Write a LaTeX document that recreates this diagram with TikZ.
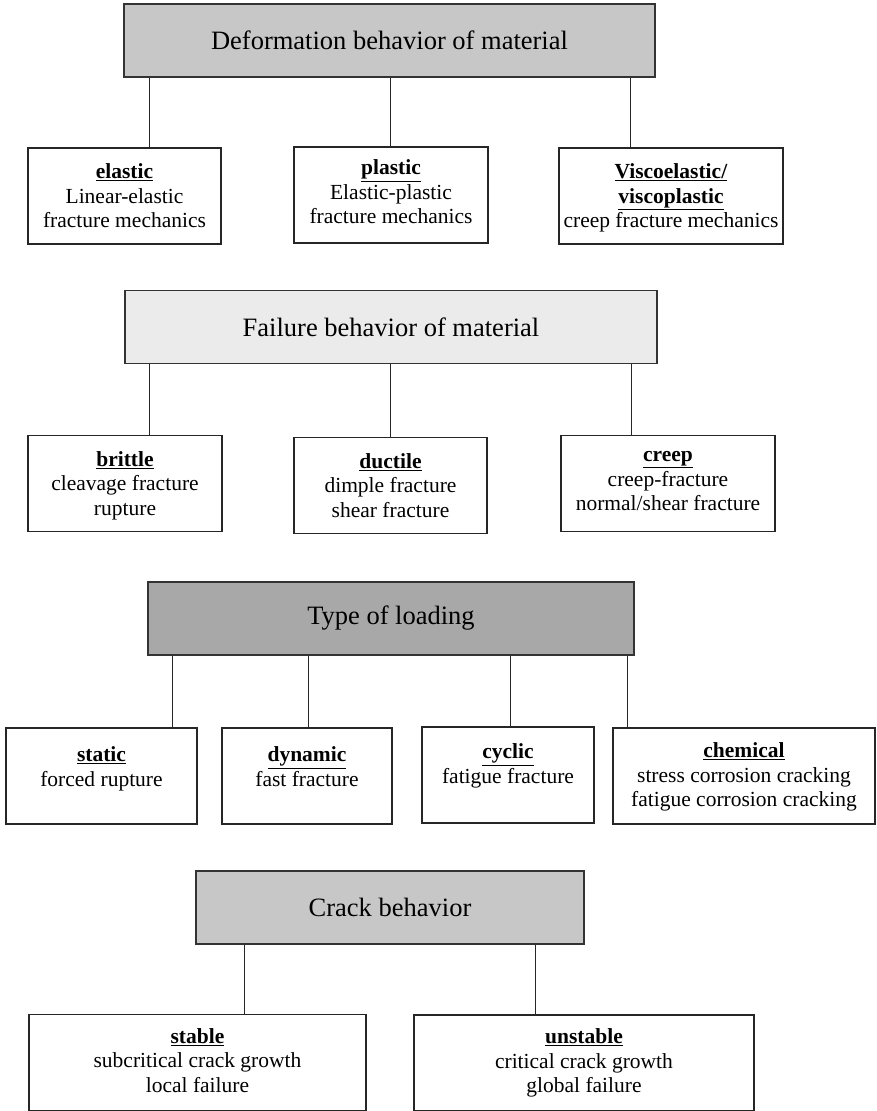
\documentclass[tikz,border=0pt]{standalone}
\usepackage{fontspec}
\setmainfont{Liberation Serif}
\usetikzlibrary{positioning}

\newcommand{\ttl}[1]{\underline{\textbf{#1}}}
\newcommand{\topbox}[3][64pt]{\parbox[c][#1][t]{#2}{\centering #3}}

\begin{document}
\begin{tikzpicture}[x=1pt,y=-1pt]
	\tikzstyle{head}=[rectangle,draw=black!80,line width=1.5pt,minimum height=73pt,inner sep=0pt,font=\fontsize{26.5}{30}\selectfont]
	\tikzstyle{leaf}=[rectangle,draw=black!85,line width=1.5pt,minimum height=96pt,inner sep=0pt,align=center,font=\fontsize{21.5}{24.5}\selectfont]
	\tikzstyle{link}=[draw=black!85,line width=1pt]
	\useasboundingbox (0,0) rectangle (876,1111);
	% deformation
	\node[head,fill=black!22,minimum width=531pt](d0) at (389.5,40.5) {Deformation behavior of material};
	\node[leaf,minimum width=193pt](d1) at (124.5,196) {\topbox{187pt}{\ttl{elastic}\\Linear-elastic\\fracture mechanics}};
	\node[leaf,minimum width=194pt](d2) at (391,195) {\topbox[70pt]{188pt}{\ttl{plastic}\\Elastic-plastic\\fracture mechanics}};
	\node[leaf,minimum width=224pt](d3) at (671,196) {\topbox{218pt}{\ttl{Viscoelastic/}\\\ttl{viscoplastic}\\creep fracture mechanics}};
	\draw[link](149,0 |- d0.south) -- (149,0 |- d1.north);
	\draw[link](390,0 |- d0.south) -- (390,0 |- d2.north);
	\draw[link](630,0 |- d0.south) -- (630,0 |- d3.north);
	% failure
	\node[head,fill=black!8,minimum width=532pt](f0) at (391,327) {Failure behavior of material};
	\node[leaf,minimum width=194pt](f1) at (125,483.5) {\topbox{188pt}{\ttl{brittle}\\cleavage fracture\\rupture}};
	\node[leaf,minimum width=193pt](f2) at (390.5,485.5) {\topbox{187pt}{\ttl{ductile}\\dimple fracture\\shear fracture}};
	\node[leaf,minimum width=214pt](f3) at (668,483.5) {\topbox{208pt}{\ttl{creep}\\creep-fracture\\normal/shear fracture}};
	\draw[link](149,0 |- f0.south) -- (149,0 |- f1.north);
	\draw[link](390,0 |- f0.south) -- (390,0 |- f2.north);
	\draw[link](631,0 |- f0.south) -- (631,0 |- f3.north);
	% loading
	\node[head,fill=black!34,minimum width=486pt](l0) at (391,618.5) {Type of loading};
	\node[leaf,minimum width=191pt](l1) at (101.5,776) {\topbox[58pt]{185pt}{\ttl{static}\\forced rupture}};
	\node[leaf,minimum width=170pt](l2) at (307,776) {\topbox[58pt]{164pt}{\ttl{dynamic}\\fast fracture}};
	\node[leaf,minimum width=172pt](l3) at (508,775) {\topbox[62pt]{166pt}{\ttl{cyclic}\\fatigue fracture}};
	\node[leaf,minimum width=262pt](l4) at (744,776) {\topbox[66pt]{256pt}{\ttl{chemical}\\stress corrosion cracking\\fatigue corrosion cracking}};
	\draw[link](172,0 |- l0.south) -- (172,0 |- l1.north);
	\draw[link](308,0 |- l0.south) -- (308,0 |- l2.north);
	\draw[link](510,0 |- l0.south) -- (510,0 |- l3.north);
	\draw[link](627,0 |- l0.south) -- (627,0 |- l4.north);
	% crack
	\node[head,fill=black!22,minimum width=388pt](c0) at (390,907.5) {Crack behavior};
	\node[leaf,minimum width=337pt](c1) at (197.5,1062.5) {\topbox[68pt]{331pt}{\ttl{stable}\\subcritical crack growth\\local failure}};
	\node[leaf,minimum width=340pt](c2) at (584,1063) {\topbox[68pt]{334pt}{\ttl{unstable}\\critical crack growth\\global failure}};
	\draw[link](244,0 |- c0.south) -- (244,0 |- c1.north);
	\draw[link](535,0 |- c0.south) -- (535,0 |- c2.north);
\end{tikzpicture}
\end{document}
